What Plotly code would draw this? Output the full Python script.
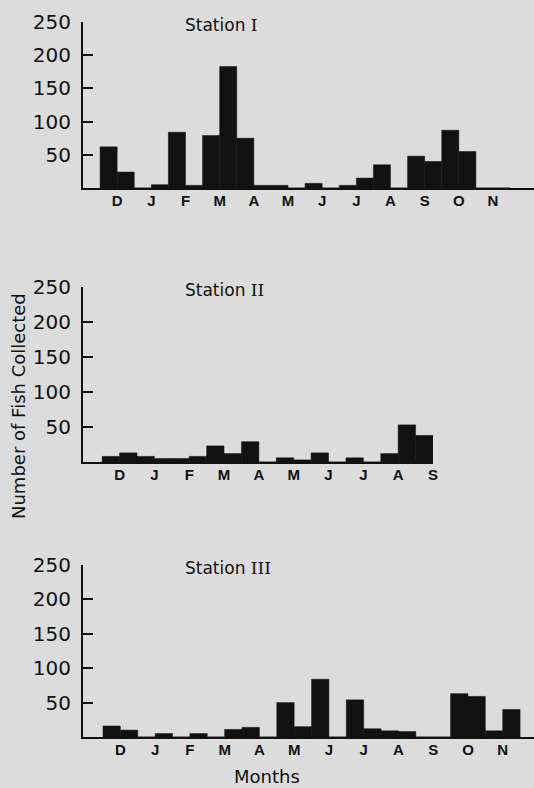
import plotly.graph_objects as go

months_full = ["D", "J", "F", "M", "A", "M", "J", "J", "A", "S", "O", "N"]
months_st2 = ["D", "J", "F", "M", "A", "M", "J", "J", "A", "S"]

# two samples per month (Dec .. Nov)
station1 = [62, 24, 0, 5, 84, 4, 79, 183, 75, 4, 4, 0, 7, 0, 4, 15, 35, 0, 48, 40, 87, 55, 0, 0]
station2 = [8, 13, 8, 5, 5, 8, 23, 12, 29, 0, 6, 3, 13, 0, 6, 0, 12, 53, 38]
station3 = [16, 10, 0, 5, 0, 5, 0, 11, 14, 0, 50, 15, 84, 0, 54, 12, 9, 8, 0, 0, 63, 59, 9, 40]

station_names = ["Station", "Station", "Station"]
numerals = ["I", "II", "III"]
ytick_vals = [50, 100, 150, 200, 250]

W, H = 534, 788
BG = "#dcdcdc"
BAR = "#111111"
FONT = "Liberation Sans"
TFONT = "DejaVu Sans"

fig = go.Figure()

panels = [
    # data, labels, x px (left, right), y px (zero, 250), x range
    (station1, months_full, (83, 534), (188, 22), (-1.5, 24.9)),
    (station2, months_st2, (83, 433), (462, 287), (-1.6, 18.5)),
    (station3, months_full, (83, 534), (737, 565), (-1.65, 24.3)),
]

for k, (vals, labels, (xl, xr), (y0, y1), xr_) in enumerate(panels):
    sfx = "" if k == 0 else str(k + 1)
    fig.add_trace(go.Bar(
        x=list(range(len(vals))), y=vals, width=1.0,
        marker=dict(color=BAR, line=dict(color=BAR, width=0.5)),
        xaxis="x" + sfx, yaxis="y" + sfx, showlegend=False, hoverinfo="skip",
    ))
    fig.layout["xaxis" + sfx] = dict(
        domain=[xl / W, xr / W], range=list(xr_), anchor="y" + sfx,
        showline=True, linecolor="#111", linewidth=2, showgrid=False, zeroline=False,
        tickmode="array", tickvals=[2 * i + 0.5 for i in range(len(labels))],
        ticktext=labels, ticks="", ticklabelstandoff=-2, automargin=False,
        tickfont=dict(family=FONT, size=15, color="#111", weight="bold"),
        fixedrange=True,
    )
    fig.layout["yaxis" + sfx] = dict(
        domain=[1 - y0 / H, 1 - y1 / H], range=[0, 250], anchor="x" + sfx,
        showline=True, linecolor="#111", linewidth=2, showgrid=False, zeroline=False,
        tickmode="array", tickvals=ytick_vals, ticks="inside", ticklen=10,
        tickwidth=2, tickcolor="#111", ticklabelstandoff=6, automargin=False,
        tickfont=dict(family=TFONT, size=20, color="#111"), fixedrange=True,
    )
    fig.add_annotation(
        text=station_names[k] + ' <span style="font-family:DejaVu Serif">' + numerals[k] + "</span>",
        xref="paper", yref="paper",
        x=183 / W, y=1 - (y1 + 3) / H, xanchor="left", yanchor="middle",
        showarrow=False, font=dict(family=TFONT, size=17, color="#111"),
    )

fig.add_annotation(
    text="Months", xref="paper", yref="paper", x=267 / W, y=1 - 776 / H,
    xanchor="center", yanchor="middle", showarrow=False,
    font=dict(family=TFONT, size=18, color="#111"),
)
fig.add_annotation(
    text="Number of Fish Collected", xref="paper", yref="paper", x=18 / W, y=1 - 406 / H,
    xanchor="center", yanchor="middle", textangle=-90, showarrow=False,
    font=dict(family=TFONT, size=18, color="#111"),
)

fig.update_layout(
    width=W, height=H, margin=dict(l=0, r=0, t=0, b=0, autoexpand=False),
    paper_bgcolor=BG, plot_bgcolor=BG, bargap=0,
)

fig.write_html(
    "out.html",
    config={"displayModeBar": False, "staticPlot": True},
    post_script="document.body.style.margin='0';document.body.style.overflow='hidden';",
)
